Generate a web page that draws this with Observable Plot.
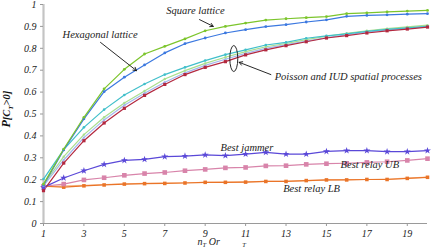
<!DOCTYPE html>
<html><head><meta charset="utf-8">
<script src="https://cdn.jsdelivr.net/npm/d3@7"></script>
<script src="https://cdn.jsdelivr.net/npm/@observablehq/plot@0.6"></script>
<style>body{margin:0;background:#fff}</style>
</head><body><div id="chart"></div>
<script>
const nT = [1,2,3,4,5,6,7,8,9,10,11,12,13,14,15,16,17,18,19,20];
const xTicks = [1,3,5,7,9,11,13,15,17,19];
const yTicks = [0,0.1,0.2,0.3,0.4,0.5,0.6,0.7,0.8,0.9,1];

const squareLattice = [0.18,0.34,0.485,0.615,0.704,0.774,0.809,0.843,0.880,0.900,0.915,0.929,0.935,0.940,0.945,0.958,0.962,0.966,0.970,0.973];
const hexLattice    = [0.175,0.336,0.478,0.602,0.668,0.724,0.779,0.821,0.847,0.870,0.885,0.899,0.908,0.920,0.930,0.946,0.950,0.953,0.956,0.958];
const poissonA      = [0.203,0.337,0.439,0.520,0.587,0.637,0.680,0.713,0.744,0.771,0.793,0.815,0.827,0.846,0.857,0.866,0.877,0.886,0.893,0.900];
const poissonB      = [0.178,0.305,0.406,0.485,0.550,0.605,0.660,0.698,0.731,0.759,0.785,0.807,0.822,0.840,0.855,0.868,0.880,0.890,0.898,0.906];
const iudA          = [0.172,0.290,0.392,0.473,0.540,0.595,0.645,0.688,0.722,0.750,0.777,0.800,0.817,0.833,0.849,0.862,0.874,0.884,0.892,0.900];
const iudB          = [0.150,0.276,0.378,0.459,0.526,0.585,0.635,0.680,0.713,0.739,0.770,0.793,0.812,0.830,0.847,0.858,0.870,0.880,0.888,0.897];
const bestJammer    = [0.165,0.208,0.241,0.270,0.288,0.293,0.305,0.308,0.313,0.310,0.317,0.325,0.317,0.317,0.329,0.333,0.333,0.328,0.328,0.333];
const bestRelayUB   = [0.170,0.180,0.199,0.209,0.220,0.228,0.233,0.241,0.247,0.254,0.256,0.263,0.264,0.270,0.273,0.275,0.279,0.282,0.288,0.296];
const bestRelayLB   = [0.170,0.166,0.172,0.176,0.180,0.182,0.183,0.185,0.188,0.188,0.189,0.192,0.192,0.196,0.199,0.199,0.201,0.201,0.206,0.211];
const bestRelayLB2  = [0.168,0.172,0.174,0.178,0.181,0.183,0.184,0.186,0.188,0.189,0.190,0.192,0.193,0.196,0.198,0.200,0.201,0.203,0.207,0.212];

const series = [
  {name:"Best relay LB 2", values:bestRelayLB2, color:"#f7bd92", symbol:null, r:0},
  {name:"Best relay LB", values:bestRelayLB, color:"#ea7428", symbol:"square", r:2},
  {name:"Best relay UB", values:bestRelayUB, color:"#d884aa", symbol:"square", r:2.6},
  {name:"Best jammer", values:bestJammer, color:"#5a48d8", symbol:"star", r:2.2},
  {name:"IUD A", values:iudA, color:"#a3b6ee", symbol:"circle", r:1.2},
  {name:"Poisson B", values:poissonB, color:"#a8de8e", symbol:"circle", r:1.2},
  {name:"Poisson A", values:poissonA, color:"#40bfca", symbol:"circle", r:1.3},
  {name:"IUD B", values:iudB, color:"#b3283f", symbol:"square", r:1.8},
  {name:"Hexagonal lattice", values:hexLattice, color:"#3b78e0", symbol:"circle", r:1.4},
  {name:"Square lattice", values:squareLattice, color:"#7cc52c", symbol:"circle", r:1.4}
];

const labels = [
  {text:"Square lattice", x:8.52, y:0.973, anchor:"middle"},
  {text:"Hexagonal lattice", x:3.80, y:0.862, anchor:"middle"},
  {text:"Poisson and IUD spatial processes", x:12.44, y:0.672, anchor:"start"},
  {text:"Best jammer", x:9.76, y:0.345, anchor:"start"},
  {text:"Best relay UB", x:15.70, y:0.267, anchor:"start"},
  {text:"Best relay LB", x:12.86, y:0.158, anchor:"start"}
];
const arrows = [
  {x1:8.72, y1:0.931, x2:9.40, y2:0.900},
  {x1:3.82, y1:0.827, x2:5.60, y2:0.698},
  {x1:12.25, y1:0.680, x2:10.68, y2:0.736}
];
const ring = {x:10.44, y:0.751};

const font = "Liberation Serif, Times New Roman, serif";
const marks = [];
marks.push(Plot.ruleY([0], {stroke:"#9a9a9a", strokeWidth:1}));
marks.push(Plot.ruleX([1], {stroke:"#c4c4c4", strokeWidth:2.2}));
marks.push(Plot.axisX({ticks:xTicks, tickSize:3, tickPadding:3, stroke:"#999", fill:"#222", fontStyle:"italic", fontSize:10, fontFamily:font, label:null}));
marks.push(Plot.axisY({ticks:yTicks, tickSize:3, tickPadding:4, stroke:"#999", fill:"#222", fontStyle:"italic", fontSize:10, fontFamily:font, label:null,
  tickFormat: d => d === 0 ? "0" : d === 1 ? "1" : d.toFixed(1)}));
for (const s of series) {
  const rows = s.values.map((v,i) => ({n:nT[i], v}));
  marks.push(Plot.line(rows, {x:"n", y:"v", stroke:s.color, strokeWidth:1.2}));
}
for (const s of series) {
  if (!s.symbol) continue;
  const rows = s.values.map((v,i) => ({n:nT[i], v}));
  marks.push(Plot.dot(rows, {x:"n", y:"v", fill:s.color, symbol:s.symbol, r:s.r, stroke:"none"}));
}
marks.push(Plot.arrow(arrows, {x1:"x1", y1:"y1", x2:"x2", y2:"y2", stroke:"#111", strokeWidth:0.9, headLength:6}));
for (const l of labels) {
  marks.push(Plot.text([l], {x:"x", y:"y", text:"text", textAnchor:l.anchor, fontStyle:"italic", fontSize:10.5, fontFamily:font, fill:"#222"}));
}

const chart = Plot.plot({
  width:436, height:250,
  marginLeft:43, marginRight:9, marginTop:4, marginBottom:27,
  x:{domain:[1,20]}, y:{domain:[0,1]},
  style:{fontFamily:font, fontSize:"10px", background:"#fff"},
  marks
});
document.getElementById("chart").append(chart);

const sx = chart.scale("x"), sy = chart.scale("y");
const svg = d3.select(chart);
svg.append("ellipse")
  .attr("cx", sx.apply(ring.x)).attr("cy", sy.apply(ring.y))
  .attr("rx", 4).attr("ry", 13)
  .attr("fill", "none").attr("stroke", "#111").attr("stroke-width", 0.9);

const yl = svg.append("text")
  .attr("transform", `translate(10,${sy.apply(0.52)}) rotate(-90)`)
  .attr("text-anchor", "middle")
  .attr("font-family", font).attr("font-style", "italic").attr("font-weight", "bold")
  .attr("font-size", 10.5).attr("fill", "#111");
yl.append("tspan").text("P").attr("font-size", 12);
yl.append("tspan").text("[C");
yl.append("tspan").text("T").attr("font-size", 7).attr("dy", 3);
yl.append("tspan").text(">0]").attr("dy", -3);

const xl = svg.append("text")
  .attr("x", sx.apply(9.2)).attr("y", 245)
  .attr("font-family", font).attr("font-style", "italic").attr("font-size", 10).attr("fill", "#222");
xl.append("tspan").text("n");
xl.append("tspan").text("T").attr("font-size", 6.5).attr("dy", 2);
xl.append("tspan").text(" Or").attr("dy", -2);
svg.append("text")
  .attr("x", sx.apply(10.95)).attr("y", 247)
  .attr("font-family", font).attr("font-style", "italic").attr("font-size", 6.5).attr("fill", "#222")
  .text("T");
</script>
</body></html>
